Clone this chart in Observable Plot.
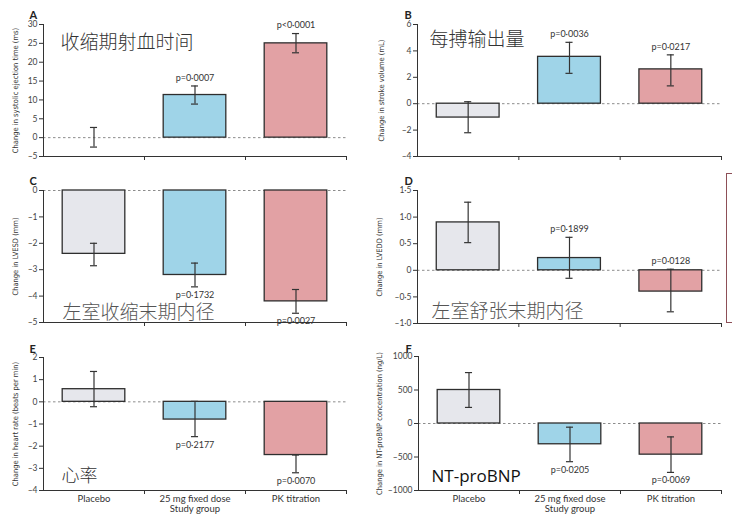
<!DOCTYPE html>
<html>
<head>
<meta charset="utf-8">
<script src="https://cdn.jsdelivr.net/npm/d3@7"></script>
<script src="https://cdn.jsdelivr.net/npm/@observablehq/plot@0.6"></script>
<style>
  html, body { margin: 0; padding: 0; background: #fff; }
  #wrap { position: relative; width: 732px; height: 518px; overflow: hidden; background: #fff; }
  #wrap svg { position: absolute; }
  #box { position: absolute; left: 726px; top: 173px; width: 30px; height: 148px; border: 1px solid #8d4f57; }
</style>
</head>
<body>
<div id="wrap"><div id="box"></div></div>
<script>
// ---- data ----
const groups = ["Placebo", "25 mg fixed dose", "PK titration"];
const groupColors = ["#e6e7ec", "#9fd4e8", "#e2a1a4"];
const xTitle = "Study group";

// A: systolic ejection time
const aVal = [0, 11.3, 25];
const aLo = [-2.5, 8.9, 22.5];
const aHi = [2.7, 13.7, 27.6];
const aP = [null, "p=0·0007", "p<0·0001"];
const aAbove = [true, true, true];
const aTicks = [-5, 0, 5, 10, 15, 20, 25, 30];

// B: stroke volume
const bVal = [-1.05, 3.55, 2.6];
const bLo = [-2.2, 2.3, 1.35];
const bHi = [0.15, 4.65, 3.7];
const bP = [null, "p=0·0036", "p=0·0217"];
const bAbove = [true, true, true];
const bTicks = [-4, -2, 0, 2, 4, 6];

// C: LVESD
const cVal = [-2.4, -3.2, -4.2];
const cLo = [-2.85, -3.65, -4.65];
const cHi = [-2.0, -2.75, -3.75];
const cP = [null, "p=0·1732", "p=0·0027"];
const cAbove = [false, false, false];
const cTicks = [-5, -4, -3, -2, -1, 0];

// D: LVEDD
const dVal = [0.9, 0.23, -0.4];
const dLo = [0.52, -0.15, -0.78];
const dHi = [1.28, 0.62, 0.02];
const dP = [null, "p=0·1899", "p=0·0128"];
const dAbove = [true, true, true];
const dTicks = [-1, -0.5, 0, 0.5, 1, 1.5];

// E: heart rate
const eVal = [0.57, -0.8, -2.4];
const eLo = [-0.22, -1.57, -3.2];
const eHi = [1.37, 0.02, -2.4];
const eP = [null, "p=0·2177", "p=0·0070"];
const eAbove = [false, false, false];
const eTicks = [-4, -3, -2, -1, 0, 1, 2];

// F: NT-proBNP
const fVal = [500, -310, -465];
const fLo = [240, -570, -730];
const fHi = [760, -55, -200];
const fP = [null, "p=0·0205", "p=0·0069"];
const fAbove = [false, false, false];
const fTicks = [-1000, -500, 0, 500, 1000];

// ---- helpers ----
const minus = s => s.replace("-", "\u2013");
const fmtInt = d => minus(String(d));
const fmtDot = d => d === 0 ? "0" : minus(d.toFixed(1).replace(".", "·"));

const tickFont = "Lato, 'Open Sans', sans-serif";
const narrowFont = "'Liberation Sans Narrow', 'DejaVu Sans Condensed', 'Roboto', sans-serif";
const cjkFont = "'Noto Sans CJK SC', sans-serif";

function panel(cfg) {
  const rows = groups.map((g, i) => ({
    i, g, v: cfg.val[i], lo: cfg.lo[i], hi: cfg.hi[i], p: cfg.p[i], above: cfg.above[i], c: groupColors[i]
  }));
  const ymin = cfg.ticks[0];
  const marks = [
    Plot.ruleY([0], {stroke: "#8c8c8c", strokeDasharray: "2.5,2.5", strokeWidth: 1}),
    Plot.rectY(rows.filter(d => d.v !== 0), {
      x1: d => d.i + 0.19, x2: d => d.i + 0.81, y1: 0, y2: "v",
      fill: "c", stroke: "#2e2e2e", strokeWidth: 1.3
    }),
    Plot.ruleX(rows, {x: d => d.i + 0.5, y1: "lo", y2: "hi", stroke: "#333", strokeWidth: 1.2}),
    Plot.ruleY(rows, {y: "lo", x1: d => d.i + 0.465, x2: d => d.i + 0.535, stroke: "#333", strokeWidth: 1.2}),
    Plot.ruleY(rows, {y: "hi", x1: d => d.i + 0.465, x2: d => d.i + 0.535, stroke: "#333", strokeWidth: 1.2}),
    Plot.text(rows.filter(d => d.p && d.above), {
      x: d => d.i + 0.5, y: "hi", text: "p", dy: -8, fontSize: 9, fill: "#333", fontFamily: tickFont
    }),
    Plot.text(rows.filter(d => d.p && !d.above), {
      x: d => d.i + 0.5, y: "lo", text: "p", dy: 8, fontSize: 9, fill: "#333", fontFamily: tickFont
    }),
    Plot.ruleX([0], {stroke: "#333", strokeWidth: 1}),
    Plot.ruleY([ymin], {stroke: "#333", strokeWidth: 1}),
    Plot.axisY({ticks: cfg.ticks, tickFormat: cfg.fmt, tickSize: 4, tickPadding: 2, fontSize: 8.5,
      fontFamily: tickFont, label: null, stroke: "#333", fill: "#444"}),
    Plot.axisX({ticks: [1, 2, 3], tickFormat: () => "", tickSize: 4, label: null, stroke: "#333"}),
    Plot.text([cfg.ylabel], {frameAnchor: "left", rotate: -90, dx: -cfg.labelOffset, textAnchor: "middle",
      lineAnchor: "middle", fontSize: 7.5, fontFamily: narrowFont, fill: "#333"}),
    Plot.text([cfg.letter], {frameAnchor: "top-left", dx: cfg.letterDx, dy: cfg.letterDy, textAnchor: "start",
      fontSize: 11, fontWeight: "bold", fontFamily: tickFont, fill: "#222"}),
    Plot.text([cfg.title], {frameAnchor: cfg.titleAnchor, dx: cfg.titleDx, dy: cfg.titleDy, textAnchor: "start",
      lineAnchor: "middle", fontSize: cfg.titleSize, fontFamily: cfg.titleFont || cjkFont,
      fontWeight: cfg.titleWeight || 300, fill: cfg.titleColor || "#333"})
  ];
  if (cfg.bottom) {
    marks.push(
      Plot.axisX({ticks: [0.5, 1.5, 2.5], tickFormat: d => groups[Math.floor(d)], tickSize: 0, tickPadding: 5,
        fontSize: 9.5, fontFamily: tickFont, label: null, fill: "#333"}),
      Plot.text([xTitle], {frameAnchor: "bottom", dy: 21, fontSize: 9.5, fontFamily: tickFont, fill: "#333"})
    );
  }
  const svg = Plot.plot({
    width: cfg.width, height: cfg.height,
    marginTop: cfg.mt, marginBottom: cfg.mb, marginLeft: cfg.ml, marginRight: cfg.mr,
    x: {domain: [0, 3]},
    y: {domain: [ymin, cfg.ticks[cfg.ticks.length - 1]]},
    color: {type: "identity"},
    style: {background: "transparent", overflow: "visible", fontFamily: tickFont, color: "#333"},
    marks
  });
  svg.style.left = cfg.left + "px";
  svg.style.top = cfg.top + "px";
  document.getElementById("wrap").appendChild(svg);
}

panel({letter: "A", left: 0, top: 0, width: 366, height: 170, mt: 24, mb: 14, ml: 43, mr: 20,
  val: aVal, lo: aLo, hi: aHi, p: aP, above: aAbove, ticks: aTicks, fmt: fmtInt,
  ylabel: "Change in systolic ejection time (ms)", labelOffset: 28, letterDx: -14, letterDy: -13,
  title: "收缩期射血时间", titleAnchor: "top-left", titleDx: 17, titleDy: 18, titleSize: 19});

panel({letter: "B", left: 366, top: 0, width: 366, height: 170, mt: 24, mb: 14, ml: 51, mr: 11,
  val: bVal, lo: bLo, hi: bHi, p: bP, above: bAbove, ticks: bTicks, fmt: fmtInt,
  ylabel: "Change in stroke volume (mL)", labelOffset: 36, letterDx: -13, letterDy: -13,
  title: "每搏输出量", titleAnchor: "top-left", titleDx: 12, titleDy: 15, titleSize: 19});

panel({letter: "C", left: 0, top: 165, width: 366, height: 170, mt: 25, mb: 13, ml: 43, mr: 20,
  val: cVal, lo: cLo, hi: cHi, p: cP, above: cAbove, ticks: cTicks, fmt: fmtInt,
  ylabel: "Change in LVESD (mm)", labelOffset: 28, letterDx: -14, letterDy: -13,
  title: "左室收缩末期内径", titleAnchor: "bottom-left", titleDx: 19, titleDy: -10, titleSize: 19,
  titleColor: "#555", titleWeight: 300});

panel({letter: "D", left: 366, top: 165, width: 366, height: 170, mt: 25, mb: 12, ml: 51, mr: 11,
  val: dVal, lo: dLo, hi: dHi, p: dP, above: dAbove, ticks: dTicks, fmt: fmtDot,
  ylabel: "Change in LVEDD (mm)", labelOffset: 38, letterDx: -13, letterDy: -13,
  title: "左室舒张末期内径", titleAnchor: "bottom-left", titleDx: 14, titleDy: -12, titleSize: 19,
  titleColor: "#555", titleWeight: 300});

panel({letter: "E", left: 0, top: 330, width: 366, height: 188, mt: 27, mb: 28, ml: 43, mr: 20, bottom: true,
  val: eVal, lo: eLo, hi: eHi, p: eP, above: eAbove, ticks: eTicks, fmt: fmtInt,
  ylabel: "Change in heart rate (beats per min)", labelOffset: 28, letterDx: -14, letterDy: -12,
  title: "心率", titleAnchor: "bottom-left", titleDx: 18, titleDy: -14, titleSize: 18});

panel({letter: "F", left: 366, top: 330, width: 366, height: 188, mt: 26, mb: 28, ml: 52, mr: 11, bottom: true,
  val: fVal, lo: fLo, hi: fHi, p: fP, above: fAbove, ticks: fTicks, fmt: fmtInt,
  ylabel: "Change in NT-proBNP concentration (ng/L)", labelOffset: 39, letterDx: -13, letterDy: -11,
  title: "NT-proBNP", titleAnchor: "bottom-left", titleDx: 13, titleDy: -14, titleSize: 17,
  titleFont: "'Open Sans', 'Noto Sans', sans-serif", titleWeight: 500, titleColor: "#111"});
</script>
</body>
</html>
